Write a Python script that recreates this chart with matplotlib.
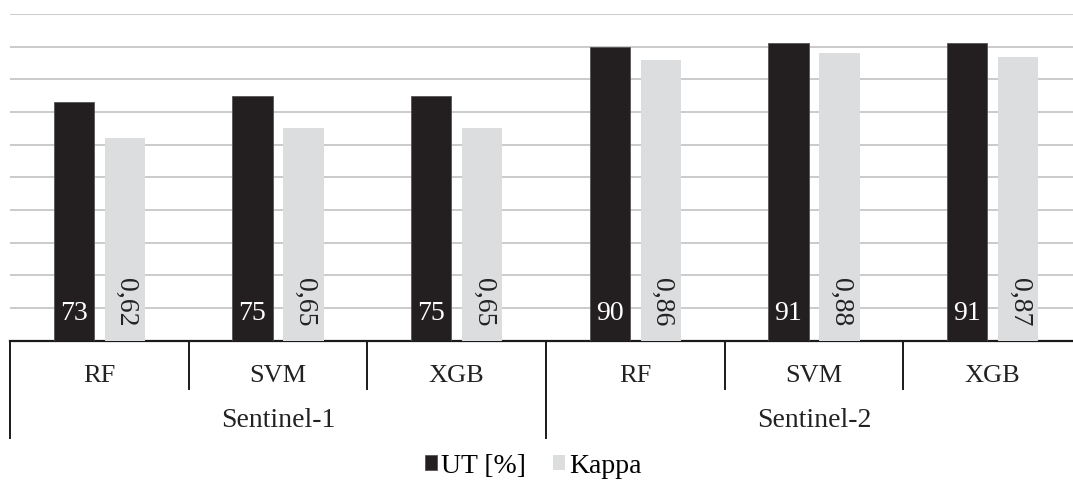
import numpy as np
import matplotlib.pyplot as plt
from matplotlib.transforms import blended_transform_factory

plt.rcParams['font.family'] = ['Liberation Serif', 'DejaVu Serif']

# Dados: exatidão global (UT) e índice Kappa por classificador e sensor
classificadores = ['RF', 'SVM', 'XGB', 'RF', 'SVM', 'XGB']
sensores = ['Sentinel-1', 'Sentinel-2']
ut = [73, 75, 75, 90, 91, 91]
kappa = [0.62, 0.65, 0.65, 0.86, 0.88, 0.87]

cor_ut = '#231f20'
cor_kappa = '#dcdddf'

fig = plt.figure(figsize=(10.73, 4.84), dpi=100)
ax = fig.add_axes([10 / 1073, 0.2961, 1072 / 1073, 0.6749])

x = np.arange(len(classificadores))
larg = 0.225
desl = 0.143

b1 = ax.bar(x - desl, ut, larg, color=cor_ut, edgecolor='#555555', linewidth=0.6,
            label='UT [%]', zorder=3)
b2 = ax.bar(x + desl, [k * 100 for k in kappa], larg, color=cor_kappa,
            label='Kappa', zorder=3)

# rótulos dentro das barras
for xi, v in zip(x, ut):
    ax.text(xi - desl, 4.4, f'{v}', ha='center', va='bottom', color='white',
            fontsize=20, zorder=4)
for xi, k in zip(x, kappa):
    ax.text(xi + desl + 0.005, 4.4, f'{k:.2f}'.replace('.', ','), ha='center',
            va='bottom', rotation=-90, color='#222222', fontsize=20, zorder=4)

ax.set_xlim(-0.5, 5.5)
ax.set_ylim(0, 100)
ax.set_yticks([])
ax.set_xticks([])
for yv in range(10, 101, 10):
    ax.axhline(yv, color='#cbcbcb', lw=1.4, zorder=1)
for s in ['top', 'right', 'left']:
    ax.spines[s].set_visible(False)
ax.spines['bottom'].set_linewidth(1.6)
ax.spines['bottom'].set_color('#1a1a1a')

# eixo x em dois níveis
tr = blended_transform_factory(ax.transData, ax.transAxes)
for xs in [0.5, 1.5, 3.5, 4.5]:
    ax.plot([xs, xs], [0, -0.148], transform=tr, color='#1a1a1a', lw=1.4, clip_on=False)
for xs in [-0.5, 2.5, 5.5]:
    ax.plot([xs, xs], [0, -0.298], transform=tr, color='#1a1a1a', lw=1.4, clip_on=False)
for xi, nome in zip(x, classificadores):
    ax.text(xi, -0.108, nome, transform=tr, ha='center', va='center', fontsize=19,
            color='#222222')
for i, s in enumerate(sensores):
    ax.text(3 * i + 1, -0.245, s, transform=tr, ha='center', va='center', fontsize=20,
            color='#222222')

fig.legend(handles=[b1, b2], loc='center', bbox_to_anchor=(0.497, 0.037), ncol=2,
           frameon=False, fontsize=20, handlelength=0.42, handleheight=0.42,
           handletextpad=0.15, columnspacing=1.0)

plt.savefig('out.png', dpi=100)
